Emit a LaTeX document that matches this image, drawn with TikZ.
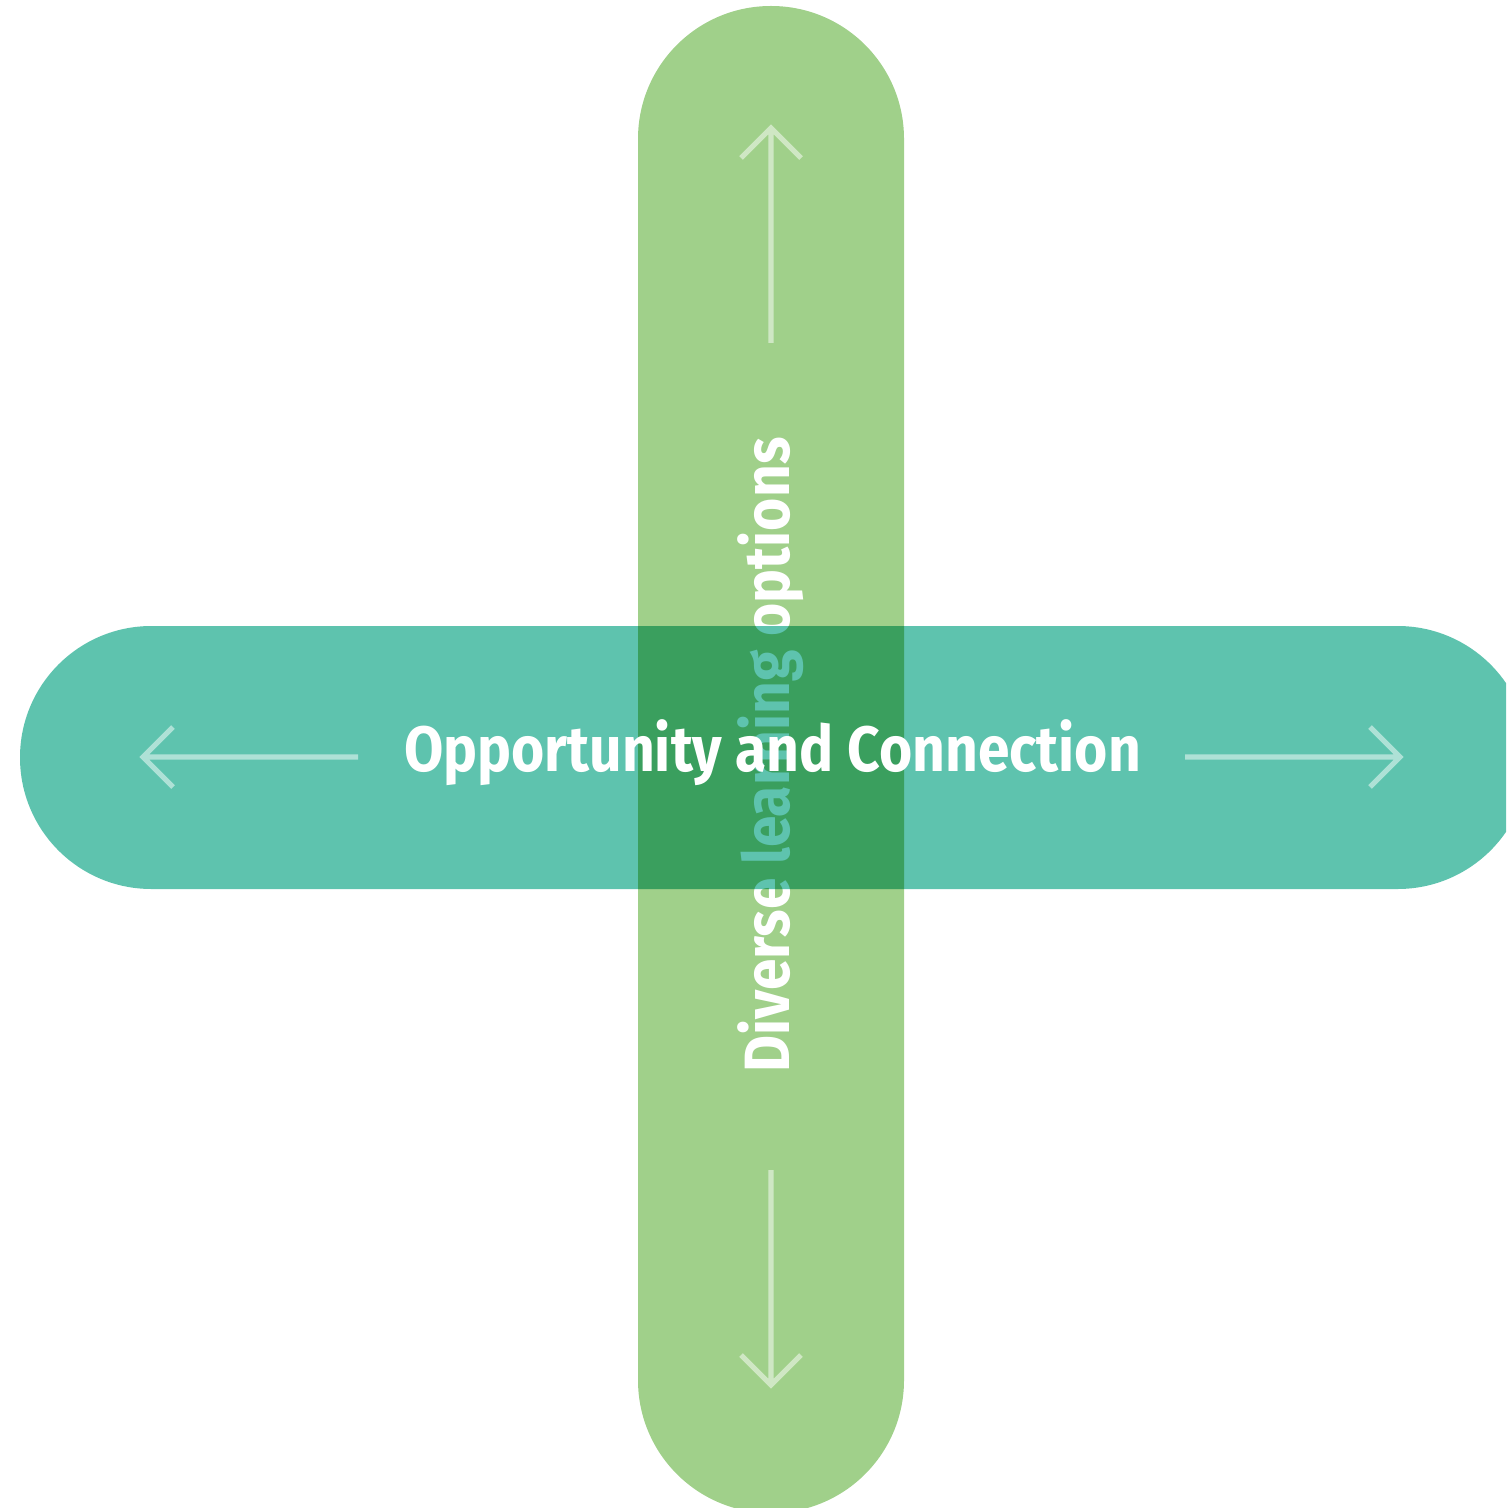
\documentclass[tikz,border=0pt]{standalone}
\usepackage{fontspec}
\newfontfamily\lblfont{Fira Sans}[FakeStretch=0.89]
\usetikzlibrary{calc}
\definecolor{vgreen}{HTML}{A0D08A}
\definecolor{hteal}{HTML}{5EC3AE}
\tikzset{
  barlabel/.style={text=white, font=\lblfont\bfseries\fontsize{32}{38}\selectfont, inner sep=0pt, anchor=base},
  guide/.style={draw=white, draw opacity=0.5, line width=2.6pt, line cap=butt, line join=miter}
}
\begin{document}
\begin{tikzpicture}[x=0.5pt,y=-0.5pt]
\useasboundingbox (0,0) rectangle (1506,1508);
\clip (0,0) rectangle (1506,1508);
% vertical bar
\fill[vgreen, rounded corners=66.4pt] (638,6) rectangle (904,1513);
% vertical label (under the horizontal bar)
\node[barlabel, rotate=90] (vlabel) at (789,755) {Diverse learning options};
% horizontal bar, multiplied over the vertical one
\begin{scope}[blend mode=multiply]
\fill[hteal, rounded corners=65.7pt] (20,626) rectangle (1529,889);
\end{scope}
% horizontal label
\node[barlabel] (hlabel) at (772.5,771) {Opportunity and Connection};
% arrows
\coordinate (uptail) at (771,343); \coordinate (uptip) at (771,128);
\coordinate (upa) at (741,158); \coordinate (upb) at (801,158);
\draw[guide] (uptail) -- (uptip) (upa) -- (uptip) -- (upb);
\coordinate (dntail) at (771,1170); \coordinate (dntip) at (771,1385);
\coordinate (dna) at (741,1355); \coordinate (dnb) at (801,1355);
\draw[guide] (dntail) -- (dntip) (dna) -- (dntip) -- (dnb);
\coordinate (lttail) at (358,757); \coordinate (lttip) at (143,757);
\coordinate (lta) at (173,727); \coordinate (ltb) at (173,787);
\draw[guide] (lttail) -- (lttip) (lta) -- (lttip) -- (ltb);
\coordinate (rttail) at (1185,757); \coordinate (rttip) at (1400,757);
\coordinate (rta) at (1370,727); \coordinate (rtb) at (1370,787);
\draw[guide] (rttail) -- (rttip) (rta) -- (rttip) -- (rtb);
\end{tikzpicture}
\end{document}
